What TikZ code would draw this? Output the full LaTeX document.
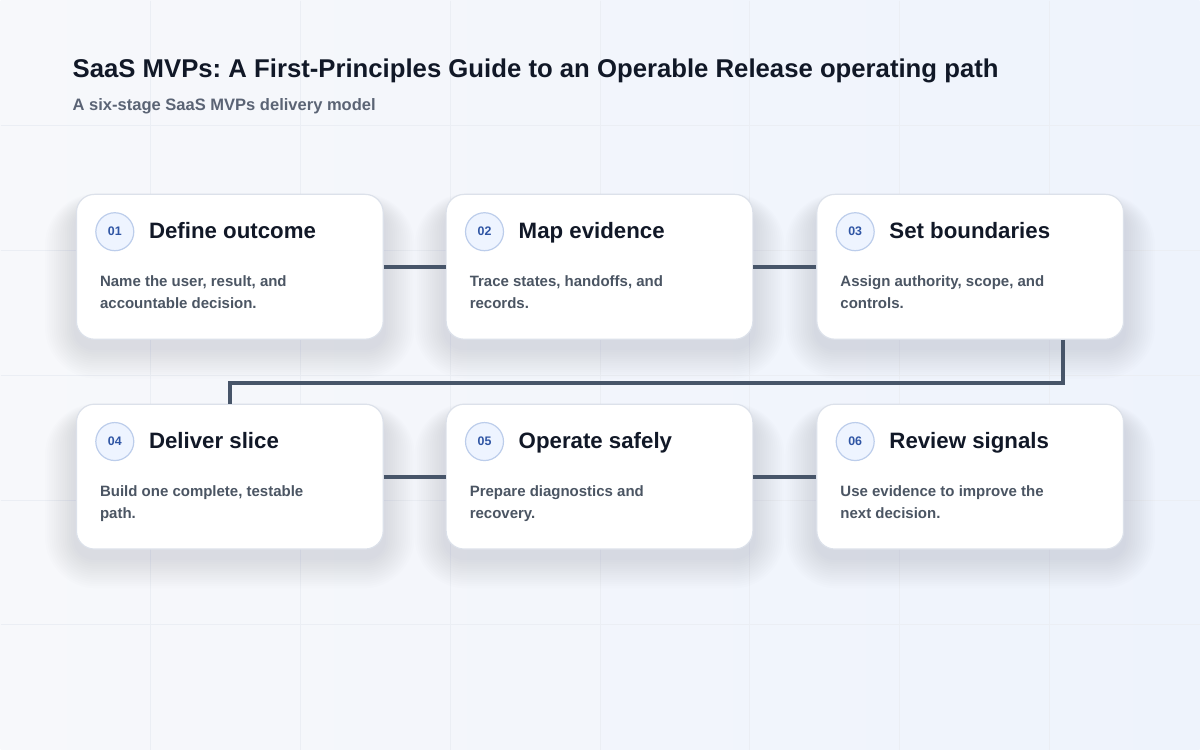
\documentclass[tikz,border=0pt]{standalone}
\usepackage{fontspec}
\setmainfont{Liberation Sans}
\frenchspacing
\usetikzlibrary{calc}
\definecolor{bgA}{HTML}{F7F8FB}
\definecolor{bgB}{HTML}{EEF3FC}
\definecolor{gridc}{HTML}{EBEEF4}
\definecolor{titlec}{HTML}{111827}
\definecolor{subc}{HTML}{5B6475}
\definecolor{descc}{HTML}{4B5563}
\definecolor{cardborder}{HTML}{DCE1EA}
\definecolor{badgefill}{HTML}{EEF4FF}
\definecolor{badgeborder}{HTML}{BCCDEB}
\definecolor{badgetext}{HTML}{2F55A4}
\definecolor{connc}{HTML}{475569}
\definecolor{shadowc}{HTML}{5A6A90}
\pgfdeclarelayer{bglayer}
\pgfdeclarelayer{shadowlayer}
\pgfsetlayers{bglayer,shadowlayer,main}
\tikzset{
  card/.style={draw=cardborder, line width=0.9pt, fill=white, rounded corners=13.5pt,
    minimum width=230.25pt, minimum height=108.75pt, inner sep=0pt},
  badge/.style={circle, draw=badgeborder, line width=0.9pt, fill=badgefill,
    minimum size=28.5pt, inner sep=0pt, text=badgetext,
    font=\bfseries\fontsize{9.3pt}{10pt}\selectfont},
  stitle/.style={inner sep=0pt, text=titlec, font=\bfseries\fontsize{16.7pt}{20pt}\selectfont},
  sdesc/.style={inner sep=0pt, text=descc, font=\bfseries\fontsize{11.25pt}{14pt}\selectfont},
  conn/.style={draw=connc, line width=3pt},
  gridl/.style={draw=gridc, line width=0.75pt},
}
\newcommand\stage[7]{%
  \node[card] (#1) at (#2,#3) {};
  \begin{pgfonlayer}{shadowlayer}
    \foreach \k in {1,...,14}{
      \fill[shadowc, opacity=0.011, rounded corners=13.5pt+\k*1.8pt]
        ($(#1.south west)+(-\k*2.2,8+\k*2.2)$) rectangle ($(#1.north east)+(\k*2.2,14-\k*1.0)$);
    }
  \end{pgfonlayer}
  \node[badge] (#1b) at ($(#1.north west)+(39,38)$) {#4};
  \node[stitle,anchor=base west] (#1t) at ($(#1.north west)+(73,45)$) {#5};
  \node[sdesc,anchor=base west] (#1d1) at ($(#1.north west)+(24,93)$) {#6};
  \node[sdesc,anchor=base west] (#1d2) at ($(#1.north west)+(24,115)$) {#7};
}
\begin{document}
\begin{tikzpicture}[x=0.75pt,y=-0.75pt]
\begin{pgfonlayer}{bglayer}
  \shade[left color=bgA, right color=bgB] (0,0) rectangle (1200,750);
  \foreach \x in {150,300,...,1050} \draw[gridl] (\x,0) -- (\x,750);
  \foreach \y in {125,250,...,625} \draw[gridl] (0,\y) -- (1200,\y);
\end{pgfonlayer}
\useasboundingbox (0,0) rectangle (1200,750);

\node[inner sep=0pt, anchor=base west, text=titlec, font=\bfseries\fontsize{19.3pt}{22pt}\selectfont] (title) at (72,77)
  {SaaS MVPs: A First-Principles Guide to an Operable Release operating path};
\node[inner sep=0pt, anchor=base west, text=subc, font=\bfseries\fontsize{12.4pt}{14pt}\selectfont] (subtitle) at (72,110)
  {A six-stage SaaS MVPs delivery model};

\stage{c1}{229.5}{266.5}{01}{Define outcome}{Name the user, result, and}{accountable decision.}
\stage{c2}{599.5}{266.5}{02}{Map evidence}{Trace states, handoffs, and}{records.}
\stage{c3}{970.5}{266.5}{03}{Set boundaries}{Assign authority, scope, and}{controls.}
\stage{c4}{229.5}{476.5}{04}{Deliver slice}{Build one complete, testable}{path.}
\stage{c5}{599.5}{476.5}{05}{Operate safely}{Prepare diagnostics and}{recovery.}
\stage{c6}{970.5}{476.5}{06}{Review signals}{Use evidence to improve the}{next decision.}

\draw[conn] (c1.east) -- (c2.west);
\draw[conn] (c2.east) -- (c3.west);
\coordinate (c3out) at ($(c3.south west)!0.8!(c3.south east)$);
\draw[conn] (c3out) -- ++(0,43) -| (c4.north);
\draw[conn] (c4.east) -- (c5.west);
\draw[conn] (c5.east) -- (c6.west);
\end{tikzpicture}
\end{document}
